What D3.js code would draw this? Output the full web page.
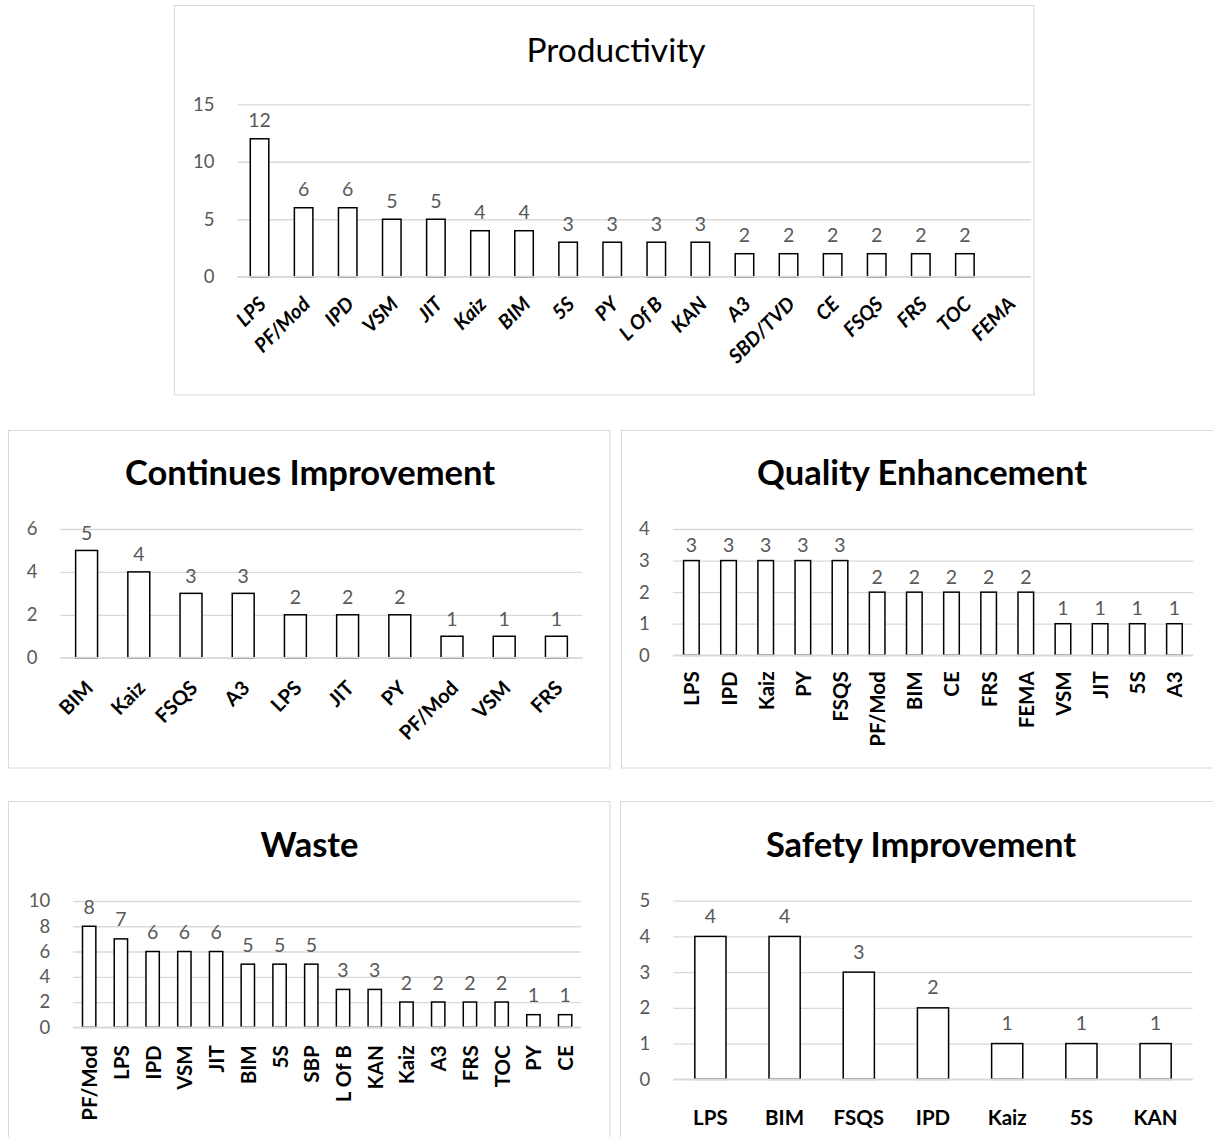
<!DOCTYPE html>
<html>
<head>
<meta charset="utf-8">
<script src="https://cdn.jsdelivr.net/npm/d3@7/dist/d3.min.js"></script>
<style>
  html, body { margin: 0; padding: 0; background: #fff; }
  svg { display: block; }
  text { font-family: Lato, "Open Sans", sans-serif; }
</style>
</head>
<body>
<svg id="chart" width="1213" height="1137"></svg>
<script>
// ---- data ----
const productivityCategories = ["LPS", "PF/Mod", "IPD", "VSM", "JIT", "Kaiz", "BIM", "5S", "PY", "L Of B", "KAN", "A3", "SBD/TVD", "CE", "FSQS", "FRS", "TOC", "FEMA"];
const productivityValues = [12, 6, 6, 5, 5, 4, 4, 3, 3, 3, 3, 2, 2, 2, 2, 2, 2, null];
const productivityTicks = [0, 5, 10, 15];

const continuesCategories = ["BIM", "Kaiz", "FSQS", "A3", "LPS", "JIT", "PY", "PF/Mod", "VSM", "FRS"];
const continuesValues = [5, 4, 3, 3, 2, 2, 2, 1, 1, 1];
const continuesTicks = [0, 2, 4, 6];

const qualityCategories = ["LPS", "IPD", "Kaiz", "PY", "FSQS", "PF/Mod", "BIM", "CE", "FRS", "FEMA", "VSM", "JIT", "5S", "A3"];
const qualityValues = [3, 3, 3, 3, 3, 2, 2, 2, 2, 2, 1, 1, 1, 1];
const qualityTicks = [0, 1, 2, 3, 4];

const wasteCategories = ["PF/Mod", "LPS", "IPD", "VSM", "JIT", "BIM", "5S", "SBP", "L Of B", "KAN", "Kaiz", "A3", "FRS", "TOC", "PY", "CE"];
const wasteValues = [8, 7, 6, 6, 6, 5, 5, 5, 3, 3, 2, 2, 2, 2, 1, 1];
const wasteTicks = [0, 2, 4, 6, 8, 10];

const safetyCategories = ["LPS", "BIM", "FSQS", "IPD", "Kaiz", "5S", "KAN"];
const safetyValues = [4, 4, 3, 2, 1, 1, 1];
const safetyTicks = [0, 1, 2, 3, 4, 5];

// ---- panel layout ----
const panels = [
  { title: "Productivity", bold: false, titleSize: 33.5, titleX: 616, titleY: 62,
    frame: [174.5, 5.5, 1034, 395], xr: [237.5, 1031], yr: [276.7, 104.3],
    cats: productivityCategories, vals: productivityValues, ticks: productivityTicks,
    labelMode: "diag", italic: true, labelSize: 20, labelOff: [2, 23], valueGap: 19 },
  { title: "Continues Improvement", bold: true, titleSize: 34.5, titleX: 310, titleY: 485,
    frame: [8.5, 430.5, 610, 768], xr: [60.5, 582.5], yr: [657.7, 529],
    cats: continuesCategories, vals: continuesValues, ticks: continuesTicks,
    labelMode: "diag", italic: false, labelSize: 20, labelOff: [2, 26], valueGap: 18 },
  { title: "Quality Enhancement", bold: true, titleSize: 34.5, titleX: 922, titleY: 485,
    frame: [621.5, 430.5, 1230, 768], xr: [672.8, 1193], yr: [655.3, 529],
    cats: qualityCategories, vals: qualityValues, ticks: qualityTicks,
    labelMode: "vert", italic: false, labelSize: 20.5, labelOff: [0, 16], valueGap: 16 },
  { title: "Waste", bold: true, titleSize: 34.5, titleX: 309.5, titleY: 857,
    frame: [8.5, 801.5, 610, 1150], xr: [73.3, 581], yr: [1027.3, 901],
    cats: wasteCategories, vals: wasteValues, ticks: wasteTicks,
    labelMode: "vert", italic: false, labelSize: 20.5, labelOff: [0, 18], valueGap: 20 },
  { title: "Safety Improvement", bold: true, titleSize: 34.5, titleX: 921, titleY: 857,
    frame: [620.5, 801.5, 1230, 1150], xr: [673.3, 1192.7], yr: [1079.3, 900.7],
    cats: safetyCategories, vals: safetyValues, ticks: safetyTicks,
    labelMode: "horiz", italic: false, labelSize: 20.5, labelOff: [0, 38], valueGap: 21 }
];

const svg = d3.select("#chart");
const GRID = "#d9d9d9";
const GREY_TEXT = "#595959";

panels.forEach(p => {
  const g = svg.append("g");

  // chart area border
  g.append("rect")
    .attr("x", p.frame[0]).attr("y", p.frame[1])
    .attr("width", p.frame[2] - p.frame[0]).attr("height", p.frame[3] - p.frame[1])
    .attr("fill", "#fff").attr("stroke", GRID).attr("stroke-width", 1);

  // title
  g.append("text")
    .attr("x", p.titleX).attr("y", p.titleY)
    .attr("text-anchor", "middle")
    .attr("font-size", p.titleSize)
    .attr("font-weight", p.bold ? 700 : 400)
    .attr("fill", "#000")
    .text(p.title);

  const x = d3.scaleBand().domain(p.cats).range(p.xr).paddingInner(0.58).paddingOuter(0.29);
  const y = d3.scaleLinear().domain([0, d3.max(p.ticks)]).range(p.yr);

  // horizontal gridlines and value axis labels
  const yAxis = d3.axisLeft(y)
    .tickValues(p.ticks)
    .tickSize(-(p.xr[1] - p.xr[0]))
    .tickPadding(23)
    .tickFormat(d3.format("d"));
  const ya = g.append("g").attr("transform", `translate(${p.xr[0]},0)`).call(yAxis);
  ya.select(".domain").remove();
  ya.selectAll(".tick line").attr("stroke", GRID).attr("stroke-width", 1.3);
  ya.selectAll(".tick text")
    .attr("font-size", 18.5).attr("fill", GREY_TEXT)
    .style("font-family", "Lato, 'Open Sans', sans-serif");

  const data = p.cats.map((c, i) => ({ c, v: p.vals[i] })).filter(d => d.v != null);

  // bars
  g.selectAll("rect.bar").data(data).join("rect")
    .attr("class", "bar")
    .attr("x", d => x(d.c))
    .attr("y", d => y(d.v))
    .attr("width", x.bandwidth())
    .attr("height", d => y(0) - y(d.v))
    .attr("fill", "#fff")
    .attr("stroke", "#000")
    .attr("stroke-width", 1.5);

  // category axis line drawn over the bar bases
  g.append("line")
    .attr("x1", p.xr[0]).attr("x2", p.xr[1])
    .attr("y1", y(0)).attr("y2", y(0))
    .attr("stroke", GRID).attr("stroke-width", 1.6);

  // value labels
  g.selectAll("text.val").data(data).join("text")
    .attr("class", "val")
    .attr("x", d => x(d.c) + x.bandwidth() / 2)
    .attr("y", d => y(d.v) - p.valueGap)
    .attr("dominant-baseline", "central")
    .attr("text-anchor", "middle")
    .attr("font-size", 19.5)
    .attr("fill", GREY_TEXT)
    .text(d => d.v);

  // category labels
  const axisY = y(0);
  const lab = g.selectAll("text.cat").data(p.cats).join("text")
    .attr("class", "cat")
    .attr("font-size", p.labelSize)
    .attr("font-weight", 700)
    .attr("font-style", p.italic ? "italic" : "normal")
    .attr("fill", "#000")
    .text(d => d);

  if (p.labelMode === "diag") {
    lab.attr("text-anchor", "end")
      .attr("dominant-baseline", "central")
      .attr("transform", d => `translate(${x(d) + x.bandwidth() / 2 + p.labelOff[0]},${axisY + p.labelOff[1]}) rotate(-45)`);
  } else if (p.labelMode === "vert") {
    lab.attr("text-anchor", "end")
      .attr("dominant-baseline", "central")
      .attr("transform", d => `translate(${x(d) + x.bandwidth() / 2},${axisY + p.labelOff[1]}) rotate(-90)`);
  } else {
    lab.attr("text-anchor", "middle")
      .attr("dominant-baseline", "central")
      .attr("x", d => x(d) + x.bandwidth() / 2)
      .attr("y", axisY + p.labelOff[1]);
  }
});
</script>
</body>
</html>
